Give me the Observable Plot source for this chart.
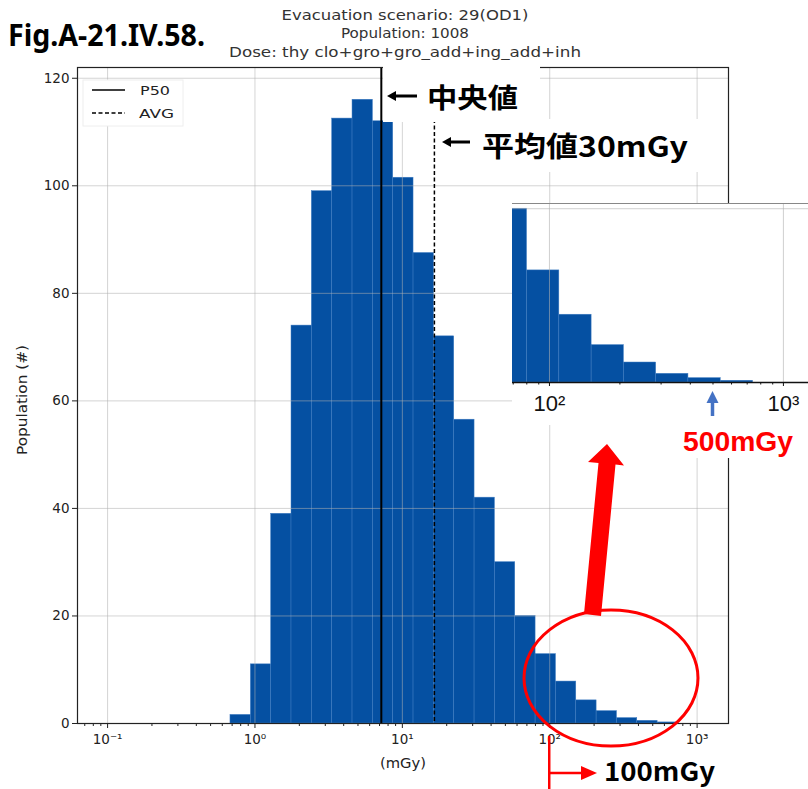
<!DOCTYPE html>
<html><head><meta charset="utf-8">
<script src="https://cdn.jsdelivr.net/npm/d3@7"></script>
<script src="https://cdn.jsdelivr.net/npm/@observablehq/plot@0.6"></script>
<style>
body{margin:0;background:#fff;}
#wrap{position:relative;width:808px;height:789px;overflow:hidden;background:#fff;}
#wrap svg{position:absolute;}
</style></head><body><div id="wrap"></div>
<script>
// ---- data ----
const binEdges = [0.682, 0.938, 1.288, 1.770, 2.432, 3.342, 4.592, 6.310, 8.670, 11.91, 16.37, 22.49, 30.90, 42.46, 58.35, 80.17, 110.2, 151.4, 208.0, 285.8, 392.6, 539.5, 741.3];
const counts = [1.6, 11, 39, 74, 99, 112.5, 116, 112, 101.5, 87.5, 72, 56.5, 42, 30, 20, 12.9, 7.8, 4.3, 2.3, 1.0, 0.5, 0.2];
const p50 = 7.2;
const avg = 16.5;
const xTickValues = [0.1, 1, 10, 100, 1000];
const xTickLabels = ["10⁻¹", "10⁰", "10¹", "10²", "10³"];
const xMinorTicks = [0.07,0.08,0.09,0.2,0.3,0.4,0.5,0.6,0.7,0.8,0.9,2,3,4,5,6,7,8,9,20,30,40,50,60,70,80,90,200,300,400,500,600,700,800,900];
const yTickValues = [0, 20, 40, 60, 80, 100, 120];
const insetTickValues = [100, 1000];
const insetTickLabels = ["10²", "10³"];
const insetMinorTicks = [70,80,90,200,300,400,500,600,700,800,900];
const insetMark = 500;
const titleLines = ["Evacuation scenario: 29(OD1)", "Population: 1008", "Dose: thy clo+gro+gro_add+ing_add+inh"];
const titleWidths = [247, 128, 352];
const legendLabels = ["P50", "AVG"];
const xLabel = "(mGy)";
const yLabel = "Population (#)";

const bins = counts.map((c, i) => ({x1: binEdges[i], x2: binEdges[i + 1], y: c}));
const barColor = "#0550a2";

const wrap = document.getElementById("wrap");

const main = Plot.plot({
  width: 808, height: 789,
  marginTop: 67, marginBottom: 66, marginLeft: 77, marginRight: 80,
  style: {fontFamily: "DejaVu Sans", fontSize: "13px", color: "#222", background: "transparent"},
  x: {type: "log", domain: [0.0625, 1633]},
  y: {domain: [0, 122]},
  marks: [
    Plot.rect(bins, {x1: "x1", x2: "x2", y1: 0, y2: "y", fill: barColor, stroke: "#3f7cc2", strokeWidth: 0.5}),
    Plot.gridX(xTickValues, {stroke: "#b0b0b0", strokeOpacity: 0.55}),
    Plot.gridY(yTickValues, {stroke: "#b0b0b0", strokeOpacity: 0.55}),
    Plot.ruleX([p50], {stroke: "#000", strokeWidth: 2}),
    Plot.ruleX([avg], {stroke: "#000", strokeWidth: 1.5, strokeDasharray: "4,2.5"}),
    Plot.axisX(xTickValues, {tickSize: 5, tickPadding: 6, fontSize: 13.5, tickFormat: d => xTickLabels[xTickValues.indexOf(d)], label: null}),
    Plot.axisX(xMinorTicks, {tickSize: 3, fill: "none", label: null}),
    Plot.axisY(yTickValues, {tickSize: 5, tickPadding: 3, fontSize: 13.5, label: null}),
    Plot.frame({stroke: "#222", strokeWidth: 1.2})
  ]
});
main.style.left = "0px"; main.style.top = "0px";
wrap.appendChild(main);

// ---- inset ----
const insetLeft = 512, insetTop = 203;
const inset = Plot.plot({
  width: 296, height: 222,
  marginTop: 0, marginBottom: 43, marginLeft: 0, marginRight: 0,
  style: {fontFamily: "Liberation Sans", fontSize: "22px", color: "#111", background: "#fff"},
  x: {type: "log", domain: [69.5, 1280]},
  y: {domain: [0, 20.6], axis: null},
  marks: [
    Plot.rect(bins, {x1: "x1", x2: "x2", y1: 0, y2: "y", fill: barColor, stroke: "#3f7cc2", strokeWidth: 0.5, clip: true}),
    Plot.gridX(insetTickValues, {stroke: "#b0b0b0", strokeOpacity: 0.6}),
    Plot.gridY([20], {stroke: "#b0b0b0", strokeOpacity: 0.6}),
    Plot.ruleY([20.6], {stroke: "#888", strokeWidth: 1}),
    Plot.ruleY([0], {stroke: "#111", strokeWidth: 1.5}),
    Plot.axisX(insetTickValues, {tickSize: 4, tickPadding: 9, fontSize: 22, tickFormat: d => insetTickLabels[insetTickValues.indexOf(d)], label: null}),
    Plot.axisX(insetMinorTicks, {tickSize: 2.5, fill: "none", label: null})
  ]
});
inset.style.left = insetLeft + "px"; inset.style.top = insetTop + "px";
wrap.appendChild(inset);

// ---- overlay annotations ----
const x100 = main.scale("x").apply(100);
const x500 = insetLeft + inset.scale("x").apply(insetMark);
const svg = d3.select(wrap).append("svg").attr("width", 808).attr("height", 789).style("left", "0px").style("top", "0px");

// white boxes behind the Japanese annotations (drawn first so title text stays on top)
svg.append("rect").attr("x", 383).attr("y", 62).attr("width", 157).attr("height", 60).attr("fill", "#fff");
svg.append("rect").attr("x", 436).attr("y", 119).attr("width", 272).attr("height", 53).attr("fill", "#fff");

svg.append("text").attr("x", 8).attr("y", 46).attr("font-family", "Noto Sans").attr("font-weight", 700)
  .attr("font-size", 30).attr("textLength", 197).attr("lengthAdjust", "spacingAndGlyphs").attr("fill", "#000").text("Fig.A-21.IV.58.");
titleLines.forEach((t, i) => {
  svg.append("text").attr("x", 405).attr("y", 20 + i * 18.3).attr("text-anchor", "middle")
    .attr("font-family", "DejaVu Sans").attr("font-size", 14).attr("textLength", titleWidths[i]).attr("lengthAdjust", "spacingAndGlyphs")
    .attr("fill", "#333").text(t);
});

// axis labels
svg.append("text").attr("transform", "translate(27,400) rotate(-90)").attr("text-anchor", "middle")
  .attr("font-family", "DejaVu Sans").attr("font-size", 14).attr("textLength", 110).attr("lengthAdjust", "spacingAndGlyphs")
  .attr("fill", "#222").text(yLabel);
svg.append("text").attr("x", 403).attr("y", 768).attr("text-anchor", "middle")
  .attr("font-family", "DejaVu Sans").attr("font-size", 14).attr("textLength", 46).attr("lengthAdjust", "spacingAndGlyphs")
  .attr("fill", "#222").text(xLabel);

// legend
const lg = svg.append("g");
lg.append("rect").attr("x", 83).attr("y", 80).attr("width", 100).attr("height", 46).attr("fill", "#fff").attr("stroke", "#eee");
lg.append("line").attr("x1", 92).attr("x2", 125).attr("y1", 90).attr("y2", 90).attr("stroke", "#000").attr("stroke-width", 1.5);
lg.append("line").attr("x1", 92).attr("x2", 125).attr("y1", 113).attr("y2", 113).attr("stroke", "#000").attr("stroke-width", 1.5).attr("stroke-dasharray", "4,2.5");
lg.append("text").attr("x", 140).attr("y", 95).attr("font-family", "DejaVu Sans").attr("font-size", 13).attr("textLength", 30).attr("lengthAdjust", "spacingAndGlyphs").attr("fill", "#222").text(legendLabels[0]);
lg.append("text").attr("x", 139).attr("y", 118).attr("font-family", "DejaVu Sans").attr("font-size", 13).attr("textLength", 35).attr("lengthAdjust", "spacingAndGlyphs").attr("fill", "#222").text(legendLabels[1]);

// Japanese annotations
function leftArrow(x1, x2, y) {
  svg.append("line").attr("x1", x1 + 6).attr("x2", x2).attr("y1", y).attr("y2", y).attr("stroke", "#000").attr("stroke-width", 3);
  svg.append("path").attr("d", `M${x1},${y} L${x1 + 9},${y - 5} L${x1 + 9},${y + 5} Z`).attr("fill", "#000");
}
leftArrow(387, 417, 96);
leftArrow(442, 470, 142);
svg.append("text").attr("x", 427).attr("y", 108).attr("font-family", "Noto Sans CJK JP").attr("font-weight", 700)
  .attr("font-size", 27).attr("textLength", 91).attr("lengthAdjust", "spacingAndGlyphs").attr("fill", "#000").text("中央値");
svg.append("text").attr("x", 482).attr("y", 157).attr("font-family", "Noto Sans CJK JP").attr("font-weight", 700)
  .attr("font-size", 28).attr("textLength", 206).attr("lengthAdjust", "spacingAndGlyphs").attr("fill", "#000").text("平均値30mGy");

// red ellipse and big arrow
svg.append("ellipse").attr("cx", 611).attr("cy", 678).attr("rx", 87).attr("ry", 68).attr("fill", "none").attr("stroke", "#f00").attr("stroke-width", 3);
svg.append("path").attr("d", "M584,614 L598.5,463 L588,462 L607,444 L624,465.5 L615.5,464.5 L601,616 Z").attr("fill", "#f00");

// 100mGy marker
svg.append("line").attr("x1", x100).attr("x2", x100).attr("y1", 736).attr("y2", 789).attr("stroke", "#f00").attr("stroke-width", 2.5);
svg.append("line").attr("x1", x100).attr("x2", 584).attr("y1", 773).attr("y2", 773).attr("stroke", "#f00").attr("stroke-width", 2.5);
svg.append("path").attr("d", `M581,766 L597,773 L581,780 Z`).attr("fill", "#f00");
svg.append("text").attr("x", 604).attr("y", 781).attr("font-family", "Noto Sans CJK JP").attr("font-weight", 700)
  .attr("font-size", 26).attr("textLength", 111).attr("lengthAdjust", "spacingAndGlyphs").attr("fill", "#000").text("100mGy");

// 500mGy marker
svg.append("rect").attr("x", 680).attr("y", 423).attr("width", 128).attr("height", 35).attr("fill", "#fff");
svg.append("line").attr("x1", x500).attr("x2", x500).attr("y1", 416).attr("y2", 402).attr("stroke", "#4472c4").attr("stroke-width", 3.5);
svg.append("path").attr("d", `M${x500 - 6},${403} L${x500},${391} L${x500 + 6},${403} Z`).attr("fill", "#4472c4");
svg.append("text").attr("x", 683).attr("y", 451).attr("font-family", "Liberation Sans").attr("font-weight", 700)
  .attr("font-size", 28).attr("textLength", 110).attr("lengthAdjust", "spacingAndGlyphs").attr("fill", "#f00").text("500mGy");
</script>
</body></html>
